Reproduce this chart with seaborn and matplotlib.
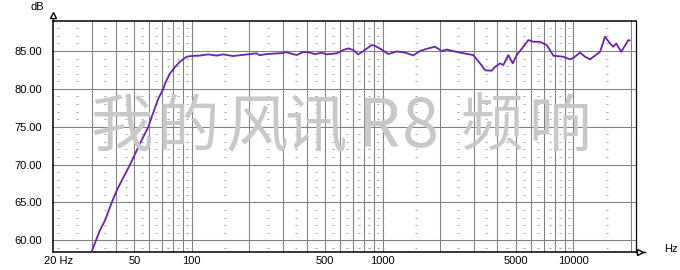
import numpy as np
import pandas as pd
import matplotlib
matplotlib.use("Agg")
import matplotlib.pyplot as plt
from matplotlib.lines import Line2D
import seaborn as sns

# ---- data ----
freq_hz = [29.0, 30.0, 33.0, 35.1, 38.1, 40.5, 43.0, 47.5, 53.6, 59.3, 61.7, 66.8,
           71.0, 72.4, 77.0, 81.8, 86.8, 94.1, 100, 110, 122, 135, 146, 165, 179,
           202, 219, 227, 247, 302, 310, 355, 384, 410, 443, 480, 510, 576, 622,
           661, 704, 745, 794, 877, 910, 986, 1073, 1190, 1311, 1450, 1571, 1706,
           1884, 2044, 2167, 2540, 2987, 3245, 3455, 3731, 3888, 4128, 4297, 4563,
           4810, 5050, 5470, 5810, 6170, 6667, 7255, 7862, 8863, 9610, 10000,
           10843, 11515, 12232, 13804, 14661, 15572, 16170, 16786, 17830, 19420,
           19700]
level_db = [58.0, 58.6, 61.3, 62.6, 65.0, 66.6, 67.9, 70.0, 72.8, 75.0, 76.3, 78.7,
            80.0, 80.7, 82.05, 82.9, 83.6, 84.25, 84.35, 84.4, 84.56, 84.4, 84.56,
            84.34, 84.45, 84.6, 84.7, 84.45, 84.6, 84.74, 84.87, 84.47, 84.87,
            84.82, 84.6, 84.78, 84.56, 84.7, 85.13, 85.35, 85.13, 84.56, 85.0,
            85.8, 85.7, 85.22, 84.6, 84.95, 84.8, 84.43, 85.0, 85.3, 85.57, 85.0,
            85.2, 84.8, 84.47, 83.37, 82.45, 82.4, 82.9, 83.37, 83.15, 84.47,
            83.37, 84.47, 85.57, 86.45, 86.23, 86.23, 85.8, 84.38, 84.25, 83.9,
            84.1, 84.8, 84.25, 83.9, 84.9, 86.9, 86.0, 85.57, 86.0, 84.9, 86.45,
            86.4]

x_tick_values = [20, 50, 100, 500, 1000, 5000, 10000]
x_tick_labels = ["20 Hz", "50", "100", "500", "1000", "5000", "10000"]
y_tick_values = [60, 65, 70, 75, 80, 85]
watermark_chars = ["我", "的", "风", "讯", "R", "8", "频", "响"]

df = pd.DataFrame({"freq": freq_hz, "db": level_db})

W, H = 680, 270
fig = plt.figure(figsize=(W / 100, H / 100), dpi=100)
fig.patch.set_facecolor("white")
L, R, T, B = 53, 636, 21, 252
ax = fig.add_axes([L / W, 1 - B / H, (R - L) / W, (B - T) / H])
ax.set_facecolor("white")

ax.set_xscale("log")
ax.set_xlim(18.75, 21300)
ax.set_ylim(58.45, 88.97)

# watermark (behind grid)
wm_x = [122, 188, 257, 316, 378, 420, 492, 560]
for ch, px in zip(watermark_chars, wm_x):
    fs = 48 if ch in "R8" else 45
    fig.text(px / W, 1 - 128 / H, ch, ha="center", va="center", fontsize=fs,
             color="#c8c8c8", family=["Noto Sans CJK SC", "DejaVu Sans"], zorder=0)

# solid grid
grid_color = "#808080"
major_x = [m * d for d in (10, 100, 1000) for m in range(1, 10)] + [10000, 20000]
major_x = [v for v in major_x if v >= 30]
for v in major_x:
    ax.axvline(v, color=grid_color, lw=0.75, zorder=1)
for v in y_tick_values:
    ax.axhline(v, color=grid_color, lw=0.75, zorder=1)

# dotted minor grid marks
minor_x = [20] + [(m + 0.5) * 10 for m in range(2, 10)] + [100] + \
          [(m + 0.5) * 100 for m in range(1, 10)] + [1000] + \
          [(m + 0.5) * 1000 for m in range(1, 10)] + [10000, 15000]
minor_y = [v for v in range(59, 89) if v % 5 != 0]
mx, my = np.meshgrid(minor_x, minor_y)
ax.scatter(mx.ravel(), my.ravel(), marker="_", s=4, color="#a0a0a0",
           linewidths=0.7, zorder=1)

sns.lineplot(data=df, x="freq", y="db", ax=ax, color="#6a22b0", linewidth=1.3,
             zorder=3, estimator=None, sort=False)

ax.set_xlabel("")
ax.set_ylabel("")
ax.set_xticks(x_tick_values)
ax.set_xticklabels(x_tick_labels)
ax.xaxis.set_minor_locator(matplotlib.ticker.NullLocator())
ax.set_yticks(y_tick_values)
ax.set_yticklabels([f"{v:.2f}" for v in y_tick_values])
ax.tick_params(axis="both", length=0, labelsize=8, colors="black")
ax.tick_params(axis="y", pad=8)
ax.tick_params(axis="x", pad=3)
for lab in ax.get_xticklabels() + ax.get_yticklabels():
    lab.set_family("Liberation Sans")

for s in ("left", "bottom", "top", "right"):
    ax.spines[s].set_color("black")
    ax.spines[s].set_linewidth(1.1)
ax.spines["right"].set_linewidth(0.9)

# axis arrows and unit labels
fig.add_artist(Line2D([L / W, L / W], [1 - T / H, 1 - 14 / H], color="black", lw=1.0))
fig.add_artist(Line2D([L / W], [1 - 15 / H], marker="^", markersize=5,
                      markerfacecolor="white", markeredgecolor="black", lw=0))
fig.add_artist(Line2D([R / W, 645 / W], [1 - B / H, 1 - B / H], color="black", lw=1.0))
fig.add_artist(Line2D([640 / W], [1 - B / H], marker=">", markersize=5,
                      markerfacecolor="white", markeredgecolor="black", lw=0))
fig.text(37 / W, 1 - 7 / H, "dB", ha="center", va="center", fontsize=8,
         family="Liberation Sans")
fig.text(671 / W, 1 - 249 / H, "Hz", ha="center", va="center", fontsize=8,
         family="Liberation Sans")

fig.savefig("out.png", dpi=100, facecolor="white")
